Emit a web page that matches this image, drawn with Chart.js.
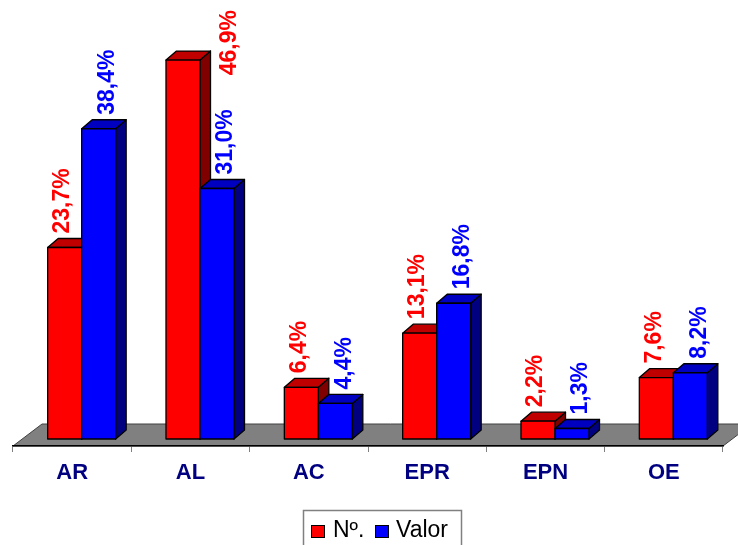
<!DOCTYPE html>
<html>
<head>
<meta charset="utf-8">
<title>Nº. / Valor</title>
<script src="https://cdn.jsdelivr.net/npm/chart.js@4/dist/chart.umd.min.js"></script>
<style>
  html, body { margin: 0; padding: 0; background: #ffffff; }
  canvas { display: block; }
</style>
</head>
<body>
<canvas id="chart" width="738" height="545"></canvas>
<script>
// Categories and the two percentage series
const categories = ['AR', 'AL', 'AC', 'EPR', 'EPN', 'OE'];
const seriesNames = ['Nº.', 'Valor'];
const numeroPct = [23.7, 46.9, 6.4, 13.1, 2.2, 7.6];
const valorPct = [38.4, 31.0, 4.4, 16.8, 1.3, 8.2];

// 3D look: bars stand a little back on the floor, and have a depth
const BAR_SHIFT = { x: 9.5, y: -7 };
const DEPTH = { x: 10.5, y: -9 };
const FLOOR = { x: 29, y: -22 };
const FONT = '"Liberation Sans", Arial, sans-serif';

const faces = [
  { front: '#ff0000', top: '#c00000', side: '#800000', text: '#ff0000', labelShift: -2 },
  { front: '#0000ff', top: '#0000c0', side: '#000080', text: '#0000ff', labelShift: 9 }
];

function fmt(v) {
  return v.toFixed(1).replace('.', ',') + '%';
}

function poly(ctx, pts, fill) {
  ctx.beginPath();
  ctx.moveTo(pts[0][0], pts[0][1]);
  for (let i = 1; i < pts.length; i++) ctx.lineTo(pts[i][0], pts[i][1]);
  ctx.closePath();
  ctx.fillStyle = fill;
  ctx.fill();
  ctx.stroke();
}

const bar3d = {
  id: 'bar3d',
  beforeDraw(chart) {
    // grey floor under the columns
    const { ctx, chartArea: a } = chart;
    const y0 = a.bottom;
    ctx.save();
    ctx.beginPath();
    ctx.moveTo(a.left, y0);
    ctx.lineTo(a.right, y0);
    ctx.lineTo(a.right + FLOOR.x, y0 + FLOOR.y);
    ctx.lineTo(a.left + FLOOR.x, y0 + FLOOR.y);
    ctx.closePath();
    ctx.fillStyle = '#808080';
    ctx.fill();
    ctx.strokeStyle = '#404040';
    ctx.lineWidth = 1;
    ctx.stroke();
    ctx.restore();
  },
  beforeDatasetsDraw(chart) {
    const ctx = chart.ctx;
    const boxes = [];
    ctx.save();
    ctx.strokeStyle = '#000000';
    ctx.lineWidth = 1.3;
    ctx.lineJoin = 'round';
    chart.data.datasets.forEach((ds, di) => {
      const meta = chart.getDatasetMeta(di);
      const f = faces[di];
      meta.data.forEach((el, i) => {
        const left = el.x - el.width / 2 + BAR_SHIFT.x;
        const right = el.x + el.width / 2 + BAR_SHIFT.x;
        const top = el.y + BAR_SHIFT.y;
        const bottom = el.base + BAR_SHIFT.y;
        poly(ctx, [[right, bottom], [right, top], [right + DEPTH.x, top + DEPTH.y], [right + DEPTH.x, bottom + DEPTH.y]], f.side);
        poly(ctx, [[left, top], [right, top], [right + DEPTH.x, top + DEPTH.y], [left + DEPTH.x, top + DEPTH.y]], f.top);
        poly(ctx, [[left, bottom], [left, top], [right, top], [right, bottom]], f.front);
        boxes.push({ left, right, top, value: ds.data[i], f });
      });
    });
    // vertical value labels above each column
    ctx.font = 'bold 23px ' + FONT;
    ctx.textAlign = 'left';
    ctx.textBaseline = 'middle';
    boxes.forEach(b => {
      const text = fmt(b.value);
      const w = ctx.measureText(text).width;
      let cx = (b.left + b.right) / 2 + b.f.labelShift;
      let start = b.top + DEPTH.y - 5;
      if (start - w < 8) {
        // no room above: put it beside the column
        cx = b.right + DEPTH.x + 19;
        start = 10 + w;
      }
      ctx.save();
      ctx.translate(cx, start);
      ctx.rotate(-Math.PI / 2);
      ctx.fillStyle = b.f.text;
      ctx.fillText(text, 0, 0);
      ctx.restore();
    });
    ctx.restore();
    return false;
  },
  afterDraw(chart) {
    // framed legend at the bottom
    const ctx = chart.ctx;
    ctx.save();
    ctx.strokeStyle = '#808080';
    ctx.lineWidth = 1.5;
    ctx.strokeRect(303.5, 510.5, 158, 45);
    ctx.font = '23px ' + FONT;
    ctx.textAlign = 'left';
    ctx.textBaseline = 'alphabetic';
    const items = [{ box: 311, text: 333 }, { box: 375, text: 396 }];
    chart.data.datasets.forEach((ds, di) => {
      const it = items[di];
      ctx.fillStyle = faces[di].front;
      ctx.fillRect(it.box, 525, 14, 13);
      ctx.strokeStyle = '#000000';
      ctx.lineWidth = 1;
      ctx.strokeRect(it.box + 0.5, 525.5, 13, 12);
      ctx.fillStyle = '#000000';
      ctx.fillText(ds.label, it.text, 537);
    });
    ctx.restore();
  }
};

new Chart(document.getElementById('chart'), {
  type: 'bar',
  data: {
    labels: categories,
    datasets: [
      { label: seriesNames[0], data: numeroPct, backgroundColor: faces[0].front },
      { label: seriesNames[1], data: valorPct, backgroundColor: faces[1].front }
    ]
  },
  options: {
    responsive: false,
    animation: false,
    devicePixelRatio: 1,
    layout: { padding: { left: 13, right: 15, top: 42, bottom: 50.6 } },
    datasets: { bar: { barPercentage: 1, categoryPercentage: 0.5747 } },
    plugins: { legend: { display: false }, tooltip: { enabled: false } },
    scales: {
      x: {
        grid: { display: true, drawOnChartArea: false, drawTicks: true, tickLength: 6, color: '#808080', lineWidth: 1, offset: true },
        border: { display: true, color: '#000000', width: 1.5 },
        ticks: {
          color: '#000080',
          font: { family: FONT, size: 22, weight: 'bold' },
          padding: 8,
          maxRotation: 0,
          autoSkip: false
        }
      },
      y: { display: false, min: 0, max: 50 }
    }
  },
  plugins: [bar3d]
});
</script>
</body>
</html>
